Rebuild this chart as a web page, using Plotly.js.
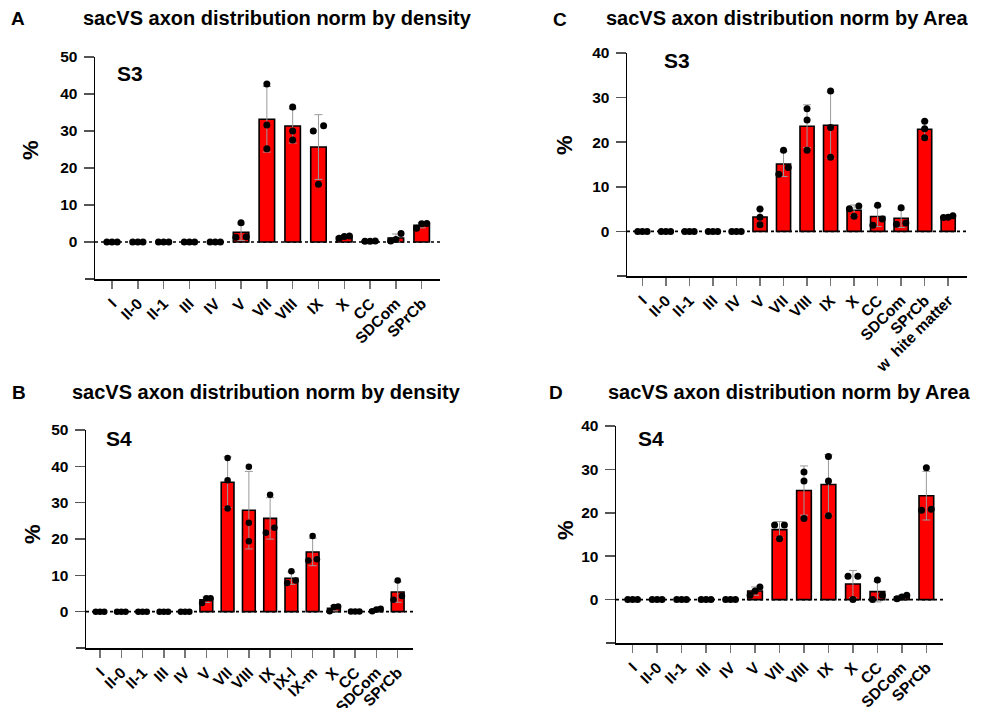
<!DOCTYPE html>
<html><head><meta charset="utf-8">
<script src="https://cdn.plot.ly/plotly-3.0.1.min.js"></script>
<style>html,body{margin:0;padding:0;background:#fff}#chart{width:982px;height:708px}</style>
</head><body><div id="chart"></div>
<script>
// ---------- DATA ----------
// Panel A : S3, norm by density
const catsA = ["I","II-0","II-1","III","IV","V","VII","VIII","IX","X","CC","SDCom","SPrCb"];
const aRep1 = [0,0,0,0,0,5.2,42.7,36.5,31.4,1.0,0.2,2.3,3.7];
const aRep2 = [0,0,0,0,0,1.3,31.6,30.0,30.0,1.6,0.3,0.3,5.0];
const aRep3 = [0,0,0,0,0,1.4,25.2,27.6,15.6,1.5,0.2,0.7,4.9];
// Panel C : S3, norm by Area
const catsC = ["I","II-0","II-1","III","IV","V","VII","VIII","IX","X","CC","SDCom","SPrCb","w\u00a0\u00a0hite matter"];
const cRep1 = [0,0,0,0,0,5.0,18.2,27.5,31.5,5.7,5.85,5.3,24.7,3.5];
const cRep2 = [0,0,0,0,0,3.2,12.8,25.0,23.3,5.1,2.8,1.6,23.0,3.1];
const cRep3 = [0,0,0,0,0,1.5,14.3,18.2,16.6,3.4,1.4,1.9,21.0,3.2];
// Panel B : S4, norm by density
const catsB = ["I","II-0","II-1","III","IV","V","VII","VIII","IX","IX-l","IX-m","X","CC","SDCom","SPrCb"];
const bRep1 = [0,0,0,0,0,2.4,42.3,39.9,32.2,11.1,20.8,0.1,0.05,0.1,8.6];
const bRep2 = [0,0,0,0,0,3.7,36.2,24.5,23.1,7.9,14.1,1.4,0.05,0.8,3.3];
const bRep3 = [0,0,0,0,0,3.7,28.4,19.4,21.7,8.6,14.4,1.3,0.05,0.6,4.3];
// Panel D : S4, norm by Area
const catsD = ["I","II-0","II-1","III","IV","V","VII","VIII","IX","X","CC","SDCom","SPrCb"];
const dRep1 = [0,0,0,0,0,2.9,17.2,29.4,33.0,5.4,4.5,0.2,30.4];
const dRep2 = [0,0,0,0,0,2.0,17.2,27.3,27.3,5.4,0,1.0,20.6];
const dRep3 = [0,0,0,0,0,1.0,14.0,18.7,19.3,0,1.0,0.6,20.8];

const titleDensity = "sacVS axon distribution norm by density";
const titleArea = "sacVS axon distribution norm by Area";

// ---------- LAYOUT ----------
const W = 982, H = 708;
const FONT = "Liberation Sans, Arial, sans-serif";
const px = x => x / W, py = y => 1 - y / H;

const panels = [
  {id:"", cats:catsA, reps:[aRep1,aRep2,aRep3], yr:[-10,50], ticks:[0,10,20,30,40,50],
   x0:95, x1:440, yT:57, yB:279, xr:[-0.66,12.71], letter:"A", lx:18, ly:18, title:titleDensity, tx:277, ty:18,
   tag:"S3", sx:130, sy:74, px:30, py:150, ms:7},
  {id:"2", cats:catsC, reps:[cRep1,cRep2,cRep3], yr:[-10,40], ticks:[0,10,20,30,40],
   x0:627, x1:967, yT:53, yB:276, xr:[-0.655,13.8], letter:"C", lx:560, ly:20, title:titleArea, tx:787, ty:18,
   tag:"S3", sx:677, sy:60, px:565, py:145, ms:7},
  {id:"3", cats:catsB, reps:[bRep1,bRep2,bRep3], yr:[-10,50], ticks:[0,10,20,30,40,50],
   x0:86, x1:413, yT:430, yB:648, xr:[-0.66,14.72], letter:"B", lx:19, ly:392, title:titleDensity, tx:266, ty:392,
   tag:"S4", sx:119, sy:438, px:32, py:534, ms:6.5},
  {id:"4", cats:catsD, reps:[dRep1,dRep2,dRep3], yr:[-10,40], ticks:[0,10,20,30,40],
   x0:616, x1:943, yT:426, yB:643, xr:[-0.68,12.68], letter:"D", lx:556, ly:392, title:titleArea, tx:789, ty:392,
   tag:"S4", sx:651, sy:438, px:565, py:530, ms:7}
];

const traces = [], layout = {
  width: W, height: H, margin:{l:0,r:0,t:0,b:0}, showlegend:false,
  paper_bgcolor:"#fff", plot_bgcolor:"rgba(0,0,0,0)",
  font:{family:FONT, color:"#000"}, annotations:[], shapes:[]
};

function ann(text, x, y, size, extra) {
  return Object.assign({text:text, xref:"paper", yref:"paper", x:px(x), y:py(y),
    xanchor:"center", yanchor:"middle", showarrow:false,
    font:{family:FONT, size:size, color:"#000", weight:"bold"}}, extra || {});
}

panels.forEach(p => {
  const xa = "x" + p.id, ya = "y" + p.id;
  const idx = p.cats.map((_, i) => i);
  const means = idx.map(i => p.reps.reduce((s, r) => s + r[i], 0) / p.reps.length);
  const sds = idx.map(i => {
    const m = means[i];
    return Math.sqrt(p.reps.reduce((s, r) => s + (r[i] - m) ** 2, 0) / (p.reps.length - 1));
  });
  traces.push({type:"bar", x:idx, y:means, xaxis:xa, yaxis:ya, width:0.6,
    marker:{color:"#ff0000", line:{color:"#000", width:1.6}},
    error_y:{type:"data", array:sds, visible:true, color:"#9a9a9a", thickness:1, width:4},
    hoverinfo:"skip"});
  // jitter overlapping points (beeswarm-like)
  const thr = 0.032 * (p.yr[1] - p.yr[0]);
  const xs = [], ys = [];
  idx.forEach(i => {
    const vals = p.reps.map(r => r[i]).sort((a, b) => a - b);
    let groups = [[vals[0]]];
    for (let k = 1; k < vals.length; k++) {
      const g = groups[groups.length - 1];
      if (vals[k] - g[g.length - 1] < thr) g.push(vals[k]); else groups.push([vals[k]]);
    }
    groups.forEach(g => {
      g.forEach((v, j) => {
        const off = g.length === 1 ? 0 : (g.length === 2 ? (j ? 0.2 : -0.2) : (j - (g.length - 1) / 2) * 0.2);
        xs.push(i + off); ys.push(v);
      });
    });
  });
  traces.push({type:"scatter", mode:"markers", x:xs, y:ys, xaxis:xa, yaxis:ya,
    marker:{color:"#000", size:p.ms}, hoverinfo:"skip", cliponaxis:false});

  layout["xaxis" + p.id] = {
    domain:[px(p.x0), px(p.x1)], anchor:ya, range:p.xr, tickmode:"array",
    tickvals:idx, ticktext:p.cats, tickangle:-45, ticks:"outside", ticklen:8, tickwidth:1.5,
    tickcolor:"#777", showline:true, linecolor:"#000", linewidth:1.5, showgrid:false, zeroline:false,
    tickfont:{family:FONT, size:15.5, color:"#000", weight:"bold"}, fixedrange:true
  };
  layout["yaxis" + p.id] = {
    domain:[py(p.yB), py(p.yT)], anchor:xa, range:p.yr, tickmode:"array", tickvals:p.ticks,
    ticks:"outside", ticklen:10, tickwidth:1.5, tickcolor:"#555", showline:true, linecolor:"#000",
    linewidth:1.5, showgrid:false, zeroline:false, ticklabelstandoff:3,
    tickfont:{family:FONT, size:15.5, color:"#000", weight:"bold"}, fixedrange:true
  };
  // dotted zero line
  layout.shapes.push({type:"line", xref:xa + " domain", x0:0, x1:1, yref:ya, y0:0, y1:0,
    line:{color:"#000", width:1.6, dash:"dot"}, layer:"below"});
  // x axis line extends a little to the left of the y axis
  layout.shapes.push({type:"line", xref:"paper", yref:"paper", x0:px(p.x0 - 10), x1:px(p.x0),
    y0:py(p.yB), y1:py(p.yB), line:{color:"#000", width:1.5}});

  layout.annotations.push(ann(p.letter, p.lx, p.ly, 19));
  layout.annotations.push(ann(p.title, p.tx, p.ty, 20));
  layout.annotations.push(ann(p.tag, p.sx, p.sy, 21));
  layout.annotations.push(ann("%", p.px, p.py, 22, {textangle:-90}));
});

Plotly.newPlot("chart", traces, layout, {staticPlot:true, displayModeBar:false});
</script>
</body></html>
